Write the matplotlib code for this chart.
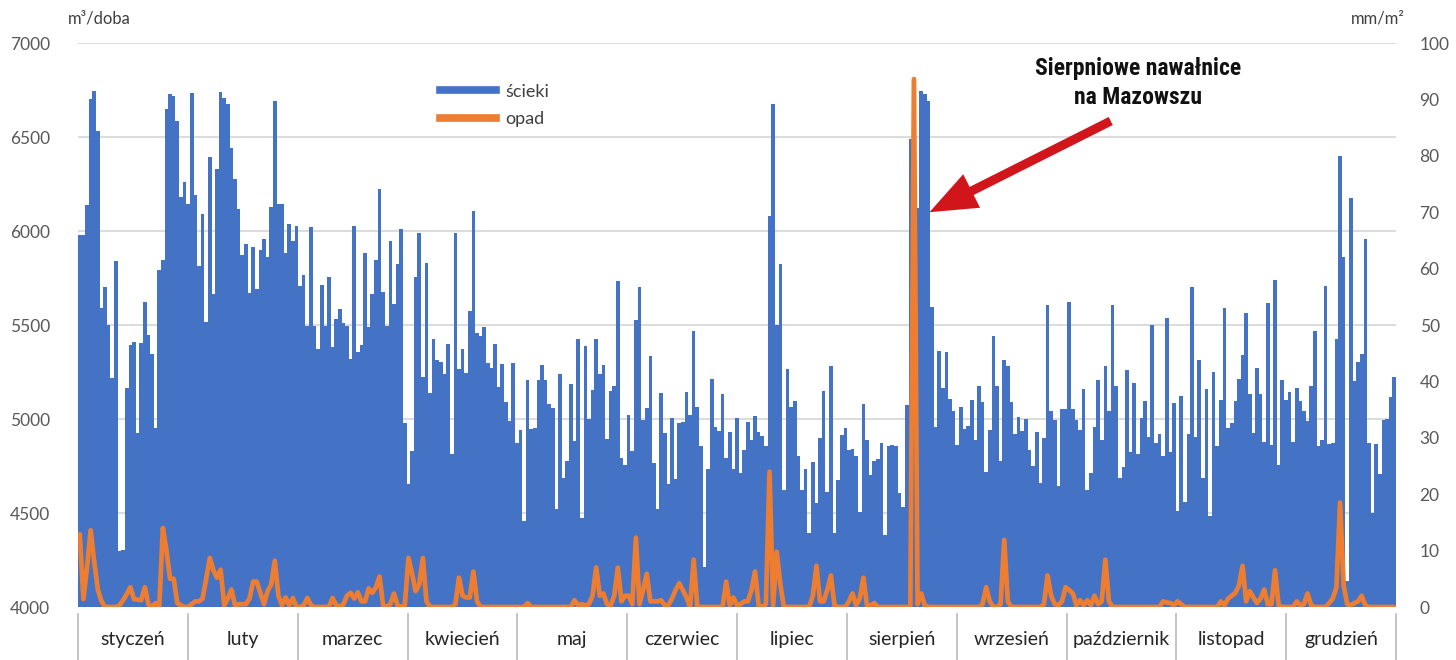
import numpy as np
import matplotlib
matplotlib.use('Agg')
import matplotlib.pyplot as plt
from matplotlib.lines import Line2D
from matplotlib import font_manager
import matplotlib.transforms as mtransforms

# ---------------- data ----------------
months = ['styczeń', 'luty', 'marzec', 'kwiecień', 'maj', 'czerwiec',
          'lipiec', 'sierpień', 'wrzesień', 'październik', 'listopad', 'grudzień']

# daily wastewater inflow, m3/day
sciek_sty = [5980, 5980, 6140, 6700, 6745, 6530, 5590, 5700, 5500, 5220, 5840, 4300, 4305, 5165, 5395, 5410,
             4925, 5405, 5625, 5445, 5345, 4950, 5795, 5845, 6650, 6730, 6720, 6585, 6180, 6260, 6145]
sciek_lut = [6736, 6192, 5814, 6088, 5515, 6395, 5663, 6328, 6740, 6705, 6674, 6441, 6276, 6115, 5870, 5933,
             5671, 5914, 5692, 5900, 5958, 5864, 6128, 6692, 6144, 6144, 5881, 6038]
sciek_mar = [5946, 6029, 5705, 5764, 5496, 6023, 5496, 5370, 5715, 5496, 5753, 5385, 5531, 5584, 5513, 5496,
             5318, 6027, 5354, 5391, 5881, 5492, 5667, 5847, 6222, 5674, 5496, 5948, 5611, 5826, 6012]
sciek_kwi = [4981, 4653, 4831, 5753, 5991, 5222, 5828, 5136, 5424, 5312, 5303, 5238, 5400, 4816, 5991, 5266,
             5372, 5245, 5573, 6105, 5456, 5443, 5489, 5300, 5270, 5397, 5169, 5295, 5088, 4987]
sciek_maj = [5297, 4872, 4941, 4460, 5207, 4946, 4952, 5207, 5287, 5207, 5082, 5061, 4523, 5238, 4684, 4774,
             5186, 4883, 5423, 4471, 5387, 4998, 5155, 5427, 5238, 5287, 4893, 5151, 5176, 5736, 4795]
sciek_cze = [4753, 5019, 4831, 5527, 5701, 4994, 5061, 5333, 4764, 4519, 5140, 4925, 4655, 5004, 4680, 4981,
             4983, 5144, 5023, 5469, 5065, 4858, 4215, 4736, 5211, 4960, 4935, 5132, 4795, 4931]
sciek_lip = [4732, 5004, 4715, 4837, 4983, 4889, 5015, 4931, 4910, 4858, 6082, 6678, 5500, 5826, 4623, 5266,
             5063, 5098, 4805, 4623, 4736, 4393, 4772, 4554, 4900, 5149, 4611, 5282, 4393, 4674, 4914]
sciek_sie = [4952, 4833, 4840, 4805, 4506, 5082, 4889, 4701, 4774, 4785, 4874, 4381, 4854, 4864, 4854, 4607,
             4533, 5077, 6489, 6400, 6123, 6747, 6730, 6694, 5596, 4958, 5360, 5167, 5356, 5109, 5042]
sciek_wrz = [4862, 5063, 4946, 4962, 5102, 4889, 5176, 5092, 4718, 4941, 5443, 5176, 4774, 5312, 5282, 5088,
             4921, 5008, 4935, 4998, 4833, 4749, 4931, 4659, 4900, 5605, 5040, 4994, 4646, 5052]
sciek_paz = [5052, 5621, 5052, 4994, 4941, 5161, 4623, 4715, 4956, 5207, 4889, 5282, 5042, 5605, 5176, 4686,
             4743, 5261, 4822, 5192, 4816, 5004, 5094, 4904, 5500, 4872, 4920, 4805, 5538, 4826, 5084]
sciek_lis = [4513, 5125, 4559, 4920, 5701, 4904, 5312, 4684, 5161, 4485, 5249, 4854, 5102, 5590, 4952, 4979,
             5098, 5213, 5339, 5563, 5134, 4925, 5270, 5134, 4879, 5617, 4862, 5741, 4753, 5207]
sciek_gru = [5102, 5144, 4879, 5165, 5098, 5040, 4990, 5176, 5469, 4858, 4889, 5705, 4868, 4872, 5423, 6400,
             5862, 4140, 6176, 5203, 5303, 5345, 5956, 4872, 4502, 4868, 4705, 4994, 4998, 5119, 5224]

# daily precipitation, mm/m2
opad_sty = [12.9, 1.4, 7, 13.6, 8, 3.1, 1, 0, 0, 0, 0, 0.3, 1.2, 2.3, 3.5, 1.4, 1.3, 1.2, 3.5, 0.5, 0, 0.7, 0,
            14, 10, 5, 5, 0.7, 0.3, 0, 0]
opad_lut = [0.5, 1, 1, 1.5, 5, 8.7, 6.5, 5.2, 6.6, 0.3, 1.5, 3.1, 0.3, 0.5, 0.5, 0.5, 1.5, 4.5, 4.5, 2.5, 0.5,
            2.8, 4, 8.2, 2, 0.3, 1.7, 0.3]
opad_mar = [1.6, 0, 0, 0.3, 1.6, 0.3, 0, 0, 0, 0, 0, 1.6, 0.3, 0, 0.5, 2, 2.5, 1.5, 2.6, 1, 1, 3.3, 2.5, 3.5,
            5.4, 0.3, 0, 0.5, 2.4, 0.3, 0]
opad_kwi = [0.3, 8.7, 6, 2.8, 4, 8.7, 1, 0, 0, 0, 0, 0, 0, 0, 0.5, 5.2, 2, 1.7, 1.7, 6.3, 1, 0, 0, 0, 0, 0, 0,
            0, 0, 0]
opad_maj = [0, 0, 0, 0, 0.7, 0, 0, 0, 0, 0, 0, 0, 0, 0, 0, 0, 0, 1.2, 0.3, 0.5, 0.3, 0.5, 2, 7, 2, 2.4, 0.5,
            0.3, 2, 7, 1]
opad_cze = [2, 2, 0.5, 12.3, 0.5, 3, 5.9, 1, 1, 1, 1.2, 0.3, 0.3, 1.5, 3, 4.2, 3, 1.7, 0, 8.4, 0, 0, 0, 0, 0,
            0, 0, 0, 4.5, 0.3]
opad_lip = [1.7, 0.3, 0.5, 1, 1, 3, 6.3, 0.3, 0, 0.5, 24, 0.3, 9.8, 4, 0, 0, 0, 0, 0, 0, 0, 0, 2, 7.3, 1, 1,
            3, 5.6, 0.3, 0, 0]
opad_sie = [0, 1, 2.4, 0.3, 1.5, 5.2, 0.3, 0.3, 0.7, 0, 0, 0, 0, 0, 0, 0, 0, 0, 0, 93.6, 0.5, 2.4, 0.3, 0, 0,
            0, 0, 0, 0, 0, 0]
opad_wrz = [0, 0, 0, 0, 0, 0, 0, 0.5, 3.5, 1, 0, 0, 0.5, 11.9, 1, 0, 0, 0, 0, 0, 0, 0, 0, 0, 0.5, 5.6, 2, 0.5,
            0.3, 1]
opad_paz = [3.5, 3, 2.4, 0.3, 1.2, 0.3, 1.2, 0.3, 2, 0.5, 1, 8.4, 1, 0, 0, 0, 0, 0, 0, 0, 0, 0, 0, 0, 0, 0,
            0, 1, 0.8, 0.7, 0.3]
opad_lis = [1, 0.5, 0, 0, 0, 0, 0, 0, 0, 0, 0, 0, 1, 0.3, 1.5, 2, 2.5, 3.8, 7.3, 1, 2.8, 1.7, 0.7, 1.5, 3.1,
            0.5, 0.5, 6.5, 0.3, 0]
opad_gru = [0, 0, 0, 1, 0.3, 0.5, 2.4, 0.3, 0, 0, 0, 0, 0.7, 1.5, 3.5, 18.5, 3.8, 0.5, 0.3, 0.7, 1, 2, 0.3,
            0, 0, 0, 0, 0, 0, 0, 0]

left_ticks = [4000, 4500, 5000, 5500, 6000, 6500, 7000]
right_ticks = [0, 10, 20, 30, 40, 50, 60, 70, 80, 90, 100]

sciek = np.concatenate([sciek_sty, sciek_lut, sciek_mar, sciek_kwi, sciek_maj, sciek_cze,
                        sciek_lip, sciek_sie, sciek_wrz, sciek_paz, sciek_lis, sciek_gru])
opad = np.concatenate([opad_sty, opad_lut, opad_mar, opad_kwi, opad_maj, opad_cze,
                       opad_lip, opad_sie, opad_wrz, opad_paz, opad_lis, opad_gru])
n = len(sciek)
x = np.arange(n)

# ---------------- fonts ----------------
names = {f.name for f in font_manager.fontManager.ttflist}
base_font = 'Lato' if 'Lato' in names else 'DejaVu Sans'
narrow_font = base_font
for cand in ['Liberation Sans Narrow', 'Roboto Condensed', 'Open Sans Condensed']:
    if cand in names:
        narrow_font = cand
        break
plt.rcParams['font.family'] = [base_font, 'DejaVu Sans']

BLUE = '#4472C4'
ORANGE = '#ED7D31'
GRID = '#d9d9d9'
TXT = '#595959'

W, H = 1456, 660
fig = plt.figure(figsize=(W / 100, H / 100), dpi=100)
ax = fig.add_axes([78 / W, 1 - 607 / H, (1396 - 78) / W, (607 - 43) / H])

ax.bar(x, sciek, width=1.0, color=BLUE, linewidth=0, zorder=2)
ax.set_xlim(-0.5, n - 0.5)
ax.set_ylim(4000, 7000)
ax.set_yticks(left_ticks)
ax.yaxis.grid(True, color=GRID, lw=1.3)
ax.set_axisbelow(True)
ax.set_xticks([])
for s in ax.spines.values():
    s.set_visible(False)
ax.tick_params(axis='y', length=0, pad=20, labelsize=12.5, labelcolor=TXT)

ax2 = ax.twinx()
ax2.plot(x, opad, color=ORANGE, lw=3.4, solid_joinstyle='round', solid_capstyle='round', zorder=3)
ax2.set_ylim(0, 100)
ax2.set_yticks(right_ticks)
for s in ax2.spines.values():
    s.set_visible(False)
ax2.tick_params(axis='y', length=0, pad=17, labelsize=12.5, labelcolor=TXT)
for lab in ax2.get_yticklabels():
    lab.set_horizontalalignment('left')

# unit labels
fig.text(68 / W, 1 - 18 / H, 'm³/doba', ha='left', va='center', fontsize=12, color='#404040')
fig.text(1405 / W, 1 - 18 / H, 'mm/m²', ha='right', va='center', fontsize=12, color='#404040')

# month category axis
trans = mtransforms.blended_transform_factory(ax.transData, ax.transAxes)
bounds = [-0.5 + n * k / 12 for k in range(13)]
for b in bounds:
    ax.plot([b, b], [-0.012, -0.1], transform=trans, color='#bfbfbf', lw=1.3, clip_on=False)
for k, m in enumerate(months):
    ax.text((bounds[k] + bounds[k + 1]) / 2, -0.0585, m, transform=trans, ha='center', va='center',
            fontsize=14, color='#262626')

# legend
handles = [Line2D([0], [0], color=BLUE, lw=5.5), Line2D([0], [0], color=ORANGE, lw=5.5)]
ax2.legend(handles, ['ścieki', 'opad'], loc='upper left', bbox_to_anchor=(427 / W, 1 - 71 / H),
           bbox_transform=fig.transFigure, frameon=False, fontsize=13, handlelength=3.1,
           handletextpad=0.55, labelspacing=0.62, labelcolor='#404040', borderpad=0.2)

# annotation
ax2.text(293.1, (6787 - 4000) / 30, 'Sierpniowe nawałnice\nna Mazowszu', ha='center', va='center',
         fontsize=17, fontweight='bold', family=[narrow_font, 'DejaVu Sans'], linespacing=1.3,
         color='#111111', zorder=6)
ax2.annotate('', xy=(235.3, (6100 - 4000) / 30), xytext=(285.5, (6585 - 4000) / 30),
             arrowprops=dict(facecolor='#D0161B', edgecolor='none', width=6.5, headwidth=27,
                             headlength=34, shrink=0), zorder=6)

fig.savefig('out.png', dpi=100)
